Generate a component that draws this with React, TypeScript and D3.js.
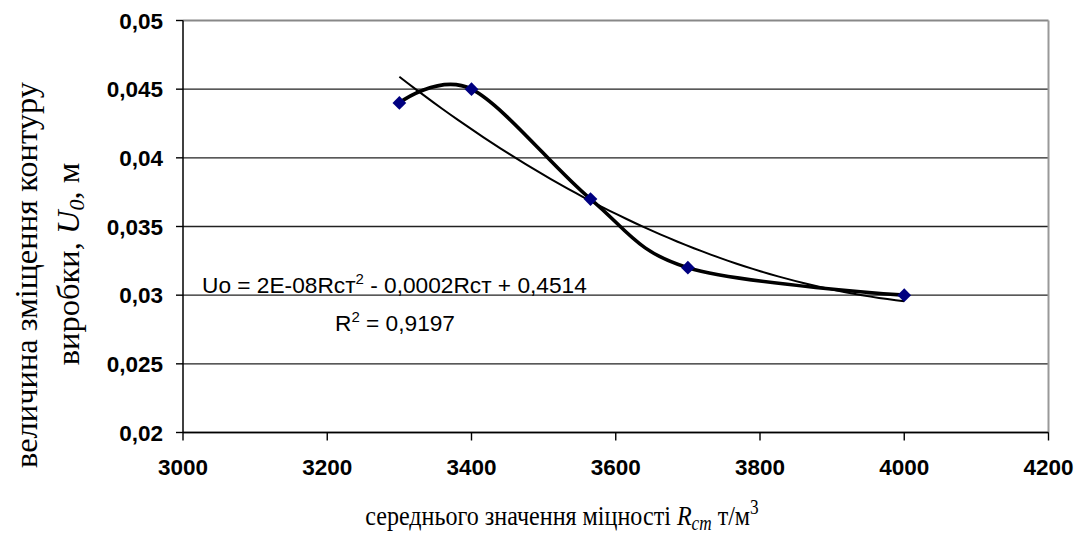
import React from "react";
import * as d3 from "d3";

const strengthValues = [3300, 3400, 3565, 3700, 4000];
const displacementValues = [0.044, 0.045, 0.037, 0.032, 0.03];
const xTickValues = [3000, 3200, 3400, 3600, 3800, 4000, 4200];
const yTickValues = [0.02, 0.025, 0.03, 0.035, 0.04, 0.045, 0.05];
const equationText = "Uo = 2E-08Rcт";
const equationRest1 = " - 0,0002Rcт + 0,4514";
const r2Text = " = 0,9197";

const W = 1075;
const H = 534;
const M = { left: 183, right: 1048.5, top: 20.5, bottom: 432.5 };

function fitQuadratic(xs: number[], ys: number[]) {
  const mx = d3.mean(xs) as number;
  const u = xs.map((x) => x - mx);
  const n = xs.length;
  let s1 = 0, s2 = 0, s3 = 0, s4 = 0, t0 = 0, t1 = 0, t2 = 0;
  for (let i = 0; i < n; i++) {
    const v = u[i];
    s1 += v; s2 += v * v; s3 += v * v * v; s4 += v * v * v * v;
    t0 += ys[i]; t1 += ys[i] * v; t2 += ys[i] * v * v;
  }
  const A = [
    [n, s1, s2],
    [s1, s2, s3],
    [s2, s3, s4],
  ];
  const B = [t0, t1, t2];
  const det = (m: number[][]) =>
    m[0][0] * (m[1][1] * m[2][2] - m[1][2] * m[2][1]) -
    m[0][1] * (m[1][0] * m[2][2] - m[1][2] * m[2][0]) +
    m[0][2] * (m[1][0] * m[2][1] - m[1][1] * m[2][0]);
  const D = det(A);
  const coef = [0, 1, 2].map((k) => {
    const m = A.map((row, r) => row.map((val, c) => (c === k ? B[r] : val)));
    return det(m) / D;
  });
  return (x: number) => {
    const v = x - mx;
    return coef[0] + coef[1] * v + coef[2] * v * v;
  };
}

export default function App() {
  const x = d3.scaleLinear().domain([3000, 4200]).range([M.left, M.right]);
  const y = d3.scaleLinear().domain([0.02, 0.05]).range([M.bottom, M.top]);

  const pts: [number, number][] = strengthValues.map((s, i) => [x(s), y(displacementValues[i])]);
  const smoothPath = d3.line().curve(d3.curveCardinal.tension(0))(pts) || "";

  const trend = fitQuadratic(strengthValues, displacementValues);
  const xMin = d3.min(strengthValues) as number;
  const xMax = d3.max(strengthValues) as number;
  const trendPts: [number, number][] = d3.range(0, 61).map((i) => {
    const xv = xMin + ((xMax - xMin) * i) / 60;
    return [x(xv), y(trend(xv))];
  });
  const trendPath = d3.line()(trendPts) || "";

  const tickFont = "Liberation Sans, Arial, sans-serif";
  const serif = "Liberation Serif, 'Times New Roman', serif";
  const diamond = d3.symbol().type(d3.symbolDiamond2 || d3.symbolSquare).size(120)() || "";

  return (
    <svg
      width={W}
      height={H}
      style={{ position: "absolute", left: 0, top: 0, background: "#fff" }}
    >
      {yTickValues.map((t) => (
        <line
          key={"g" + t}
          x1={M.left}
          x2={M.right}
          y1={y(t)}
          y2={y(t)}
          stroke={t === 0.05 ? "#888" : "#222"}
          strokeWidth={t === 0.05 ? 2 : 1.4}
        />
      ))}
      <line x1={M.right} x2={M.right} y1={M.top} y2={M.bottom} stroke="#999" strokeWidth={2} />
      <line x1={M.left} x2={M.left} y1={M.top} y2={M.bottom} stroke="#000" strokeWidth={1.5} />
      <line x1={M.left} x2={M.right} y1={M.bottom} y2={M.bottom} stroke="#000" strokeWidth={1.5} />
      {yTickValues.map((t) => (
        <g key={"yt" + t}>
          <line x1={M.left - 7} x2={M.left} y1={y(t)} y2={y(t)} stroke="#000" strokeWidth={1.4} />
          <text
            x={163}
            y={y(t)}
            dy="0.36em"
            textAnchor="end"
            fontFamily={tickFont}
            fontWeight="bold"
            fontSize={22.5}
          >
            {String(Math.round(t * 1000) / 1000).replace(".", ",")}
          </text>
        </g>
      ))}
      {xTickValues.map((t) => (
        <g key={"xt" + t}>
          <line x1={x(t)} x2={x(t)} y1={M.bottom} y2={M.bottom + 8} stroke="#000" strokeWidth={1.4} />
          <text
            x={x(t)}
            y={475}
            textAnchor="middle"
            fontFamily={tickFont}
            fontWeight="bold"
            fontSize={22.5}
          >
            {t}
          </text>
        </g>
      ))}

      <path d={trendPath} fill="none" stroke="#000" strokeWidth={2} />
      <path d={smoothPath} fill="none" stroke="#000" strokeWidth={3.6} strokeLinejoin="round" />
      {pts.map(([px, py], i) => (
        <path key={"m" + i} d={diamond} transform={`translate(${px},${py})`} fill="#000080" />
      ))}

      <text x={202} y={293} fontFamily={tickFont} fontSize={22.7}>
        {equationText}
        <tspan dy={-9} fontSize={15}>2</tspan>
        <tspan dy={9}>{equationRest1}</tspan>
      </text>
      <text x={335} y={331} fontFamily={tickFont} fontSize={22.7}>
        R<tspan dy={-9} fontSize={15}>2</tspan>
        <tspan dy={9}>{r2Text}</tspan>
      </text>

      <text
        transform="translate(37,275) rotate(-90)"
        textAnchor="middle"
        fontFamily={serif}
        fontSize={32.5}
      >
        величина зміщення контуру
      </text>
      <text
        transform="translate(79,264) rotate(-90)"
        textAnchor="middle"
        fontFamily={serif}
        fontSize={32.5}
      >
        виробки, <tspan fontStyle="italic">U</tspan>
        <tspan fontStyle="italic" fontSize={22} dy={5}>0</tspan>
        <tspan dy={-5}>, м</tspan>
      </text>

      <text
        transform="translate(562,525) scale(0.86,1)"
        textAnchor="middle"
        fontFamily={serif}
        fontSize={28}
      >
        середнього значення міцності <tspan fontStyle="italic">R</tspan>
        <tspan fontStyle="italic" fontSize={20} dy={5}>cm</tspan>
        <tspan dy={-5}> т/м</tspan>
        <tspan fontSize={20} dy={-11}>3</tspan>
      </text>
    </svg>
  );
}
